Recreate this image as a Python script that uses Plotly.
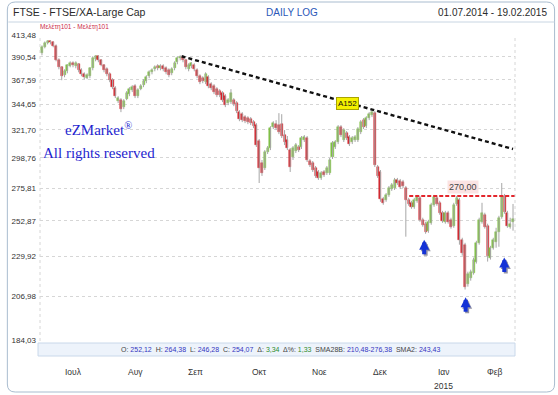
import math
import pandas as pd
import plotly.graph_objects as go

# ---------------- data ----------------
dates = pd.bdate_range("2014-07-01", "2015-02-19")

open_ = [394.3, 400.6, 404.8, 406.9, 405.9, 401.6, 387.0, 379.9, 372.0, 375.9,
         380.9, 384.0, 380.9, 383.0, 376.9, 372.9, 369.1, 371.0, 378.9, 388.1,
         391.2, 387.0, 381.9, 377.9, 372.9, 367.1, 359.4, 347.3, 348.2, 341.8,
         349.1, 353.8, 357.5, 361.4, 351.9, 358.5, 362.3, 366.2, 371.0, 374.9,
         377.9, 380.9, 378.9, 380.9, 378.9, 376.9, 373.9, 378.9, 385.0, 389.1,
         390.2, 387.0, 377.9, 380.9, 381.9, 376.9, 371.0, 369.1, 365.2, 370.0,
         363.3, 361.4, 358.5, 356.6, 354.7, 351.9, 345.5, 346.4, 348.2, 345.5,
         337.3, 335.5, 332.9, 332.0, 331.1, 328.5, 325.9, 312.4, 294.7, 290.8,
         303.4, 306.7, 324.2, 326.7, 325.9, 326.7, 317.4, 313.2, 305.0, 299.5,
         304.2, 307.5, 307.5, 313.2, 314.9, 296.3, 294.7, 290.8, 287.8, 283.3,
         287.8, 287.0, 287.0, 299.5, 307.5, 311.6, 324.2, 313.2, 319.1, 315.7,
         311.6, 313.2, 313.2, 319.9, 330.2, 325.0, 332.0, 334.6, 336.4, 291.6,
         287.8, 268.0, 267.3, 270.8, 275.1, 275.8, 281.8, 281.0, 280.3, 275.8,
         267.3, 265.2, 262.4, 266.6, 268.7, 253.5, 250.9, 246.3, 251.5, 263.8,
         268.7, 265.2, 258.3, 252.2, 258.3, 253.5, 249.5, 264.5, 267.3, 240.4,
         237.3, 214.0, 217.5, 220.4, 226.9, 238.5, 252.2, 256.9, 249.5, 229.3,
         235.4, 239.2, 245.6, 255.6, 270.1, 258.3, 248.9, 252.12]

close = [400.6, 404.8, 406.9, 405.9, 401.6, 387.0, 379.9, 371.0, 375.9, 381.9,
         384.0, 381.9, 384.0, 376.9, 372.9, 370.0, 372.0, 378.9, 389.1, 391.2,
         387.0, 381.9, 376.9, 372.9, 367.1, 360.4, 351.9, 350.1, 340.0, 347.3,
         354.7, 358.5, 360.4, 351.9, 357.5, 361.4, 366.2, 370.0, 374.9, 376.9,
         379.9, 378.9, 380.9, 377.9, 374.9, 372.0, 377.9, 384.0, 389.1, 390.2,
         387.0, 379.9, 381.9, 384.0, 377.9, 371.0, 365.2, 366.2, 372.9, 361.4,
         359.4, 355.7, 352.8, 352.8, 348.2, 343.6, 348.2, 354.7, 344.6, 338.2,
         331.1, 330.2, 329.3, 328.5, 327.6, 325.0, 309.1, 290.8, 287.0, 303.4,
         306.7, 323.3, 327.6, 323.3, 319.9, 316.6, 311.6, 306.7, 291.6, 306.7,
         309.1, 305.0, 314.9, 315.7, 297.1, 293.2, 289.3, 284.8, 283.3, 287.0,
         285.5, 290.8, 297.1, 310.8, 311.6, 324.2, 317.4, 321.6, 314.9, 309.9,
         314.9, 315.7, 322.5, 328.5, 324.2, 332.0, 335.5, 337.3, 293.2, 284.8,
         268.0, 265.2, 270.8, 275.8, 278.1, 281.8, 279.5, 276.6, 277.3, 267.3,
         264.5, 262.4, 267.3, 269.4, 253.5, 250.2, 245.6, 252.2, 263.8, 269.4,
         264.5, 258.3, 252.9, 258.3, 252.2, 248.9, 263.8, 268.7, 240.4, 232.3,
         212.3, 219.8, 220.9, 228.1, 238.5, 253.5, 258.3, 248.9, 230.5, 235.4,
         240.4, 245.6, 254.9, 270.1, 259.0, 249.5, 250.7, 254.07]

high = [402.7, 406.9, 408.0, 408.0, 406.9, 403.7, 389.1, 380.9, 377.9, 383.0,
        386.0, 386.0, 386.0, 384.0, 378.9, 374.9, 373.9, 379.9, 391.2, 392.2,
        392.2, 388.1, 383.0, 379.9, 374.9, 369.1, 361.4, 351.9, 350.1, 349.1,
        356.6, 360.4, 362.3, 363.3, 359.4, 363.3, 368.1, 372.0, 376.9, 378.9,
        381.9, 383.0, 383.0, 383.0, 380.9, 378.9, 379.9, 386.0, 391.2, 392.2,
        392.2, 388.1, 384.0, 385.0, 384.0, 378.9, 372.9, 371.0, 374.9, 372.0,
        365.2, 363.3, 360.4, 358.5, 356.6, 353.8, 350.1, 358.5, 350.1, 347.3,
        339.1, 337.3, 334.6, 333.7, 332.9, 330.2, 327.6, 314.1, 297.1, 305.0,
        308.3, 325.0, 329.3, 330.2, 336.4, 335.5, 321.6, 316.6, 306.7, 308.3,
        310.8, 309.1, 316.6, 317.4, 316.6, 297.9, 296.3, 292.4, 289.3, 288.5,
        289.3, 292.4, 298.7, 312.4, 313.2, 325.9, 325.9, 323.3, 320.8, 317.4,
        316.6, 317.4, 324.2, 330.2, 332.0, 333.7, 337.3, 339.1, 338.2, 293.2,
        289.3, 269.4, 272.2, 277.3, 279.5, 283.3, 283.3, 282.5, 281.8, 277.3,
        268.7, 266.6, 268.7, 270.8, 270.1, 254.9, 252.2, 253.5, 265.2, 270.8,
        270.1, 266.6, 259.6, 259.6, 259.6, 254.9, 265.2, 270.1, 268.7, 241.7,
        238.5, 220.9, 222.1, 229.3, 239.8, 254.9, 265.2, 258.3, 250.9, 236.6,
        241.7, 248.2, 256.2, 279.5, 271.5, 259.6, 254.9, 264.38]

low = [392.2, 399.5, 403.7, 403.7, 400.6, 386.0, 377.9, 367.1, 370.0, 373.9,
       379.9, 379.9, 378.9, 374.9, 371.0, 368.1, 368.1, 369.1, 376.9, 386.0,
       385.0, 380.9, 374.9, 371.0, 365.2, 358.5, 350.1, 345.5, 337.3, 340.0,
       348.2, 351.9, 355.7, 350.1, 350.1, 357.5, 360.4, 364.2, 369.1, 372.9,
       375.9, 376.9, 376.9, 375.9, 372.9, 370.0, 372.0, 376.9, 383.0, 387.0,
       385.0, 377.9, 375.9, 378.9, 375.9, 369.1, 363.3, 364.2, 363.3, 359.4,
       357.5, 353.8, 351.0, 351.0, 346.4, 341.8, 343.6, 344.6, 342.7, 336.4,
       329.3, 328.5, 327.6, 326.7, 325.9, 323.3, 307.5, 279.5, 284.8, 289.3,
       301.8, 305.0, 322.5, 321.6, 318.2, 314.9, 309.1, 305.0, 287.8, 297.1,
       302.6, 303.4, 305.9, 311.6, 295.5, 291.6, 287.8, 283.3, 281.8, 281.8,
       284.0, 285.5, 285.5, 297.9, 305.9, 309.9, 315.7, 311.6, 313.2, 308.3,
       309.9, 311.6, 311.6, 318.2, 322.5, 323.3, 330.2, 332.9, 291.6, 283.3,
       265.9, 263.8, 265.9, 269.4, 273.7, 274.4, 278.1, 275.1, 275.8, 242.4,
       263.1, 261.0, 261.0, 265.2, 252.2, 248.9, 244.3, 244.9, 250.2, 262.4,
       263.1, 256.9, 251.5, 250.9, 250.9, 247.6, 248.2, 263.1, 237.3, 230.5,
       210.7, 212.3, 215.7, 219.2, 225.7, 237.3, 250.9, 247.6, 226.9, 228.1,
       234.2, 235.4, 236.0, 254.2, 257.6, 248.2, 247.6, 246.28]

y_ticks = [413.48, 390.54, 367.59, 344.65, 321.70, 298.76, 275.81, 252.87, 229.92, 206.98, 184.03]
y_tick_labels = ["413,48", "390,54", "367,59", "344,65", "321,70", "298,76",
                 "275,81", "252,87", "229,92", "206,98", "184,03"]
month_labels = ["Ιουλ", "Αυγ", "Σεπ", "Οκτ", "Νοε", "Δεκ", "Ιαν", "Φεβ"]
year_label = "2015"

trend_x = [49.5, 167.0]           # trading-day index
trend_y = [391.2, 305.9]
resist_x = [130.2, 167.7]
resist_level = 270.00
arrow_x = [135.5, 150.2, 163.9]
arrow_y = [240.4, 206.4, 229.3]

info_labels = ["O:", "H:", "L:", "C:", "Δ:", "Δ%:", "SMA28B:", "SMA2:"]
info_values = ["252,12", "264,38", "246,28", "254,07", "3,34", "1,33", "210,48-276,38", "243,43"]

# ---------------- layout helpers ----------------
W, H = 558, 395
ML, MR, MT, MB = 35, 43, 35, 54
PW, PH = W - ML - MR, H - MT - MB


def px(x):
    return (x - ML) / PW


def py(y):
    return (H - MB - y) / PH


FONT = "Liberation Sans, Arial, sans-serif"
GREEN = "#7fc043"
RED = "#d3222a"
WICK = "#a6a6a6"

idx = list(range(len(dates)))

# wicks
wx, wy = [], []
for i, (lo, hi) in enumerate(zip(low, high)):
    wx += [i, i, None]
    wy += [lo, hi, None]

body_col = [GREEN if c >= o else RED for o, c in zip(open_, close)]

fig = go.Figure()
fig.add_trace(go.Scatter(x=wx, y=wy, mode="lines", line=dict(color=WICK, width=1),
                         hoverinfo="skip", showlegend=False))
fig.add_trace(go.Bar(
    x=idx, base=[min(o, c) for o, c in zip(open_, close)],
    y=[abs(c - o) for o, c in zip(open_, close)],
    width=0.72, marker=dict(color=body_col, line=dict(color=body_col, width=0.5)),
    showlegend=False, hovertext=[d.strftime("%d.%m.%Y") for d in dates]))

# trend line & resistance
fig.add_trace(go.Scatter(x=trend_x, y=trend_y, mode="lines",
                         line=dict(color="#111111", width=2.4, dash="4px,3px"),
                         hoverinfo="skip", showlegend=False))
fig.add_trace(go.Scatter(x=resist_x, y=[resist_level, resist_level], mode="lines",
                         line=dict(color="#e3262c", width=2, dash="4px,2px"),
                         hoverinfo="skip", showlegend=False))

# month tick positions = centre of each month's trading days
months = pd.Series(idx, index=dates).groupby([dates.year, dates.month]).mean()
tickpos = list(months.values)

annotations = []
annotations.append(dict(text="FTSE - FTSE/XA-Large Cap", x=px(6), y=py(12), xref="paper", yref="paper",
                        xanchor="left", yanchor="middle", showarrow=False,
                        font=dict(family=FONT, size=10.5, color="#2b2b2b")))
annotations.append(dict(text="DAILY LOG", x=px(290), y=py(12), xref="paper", yref="paper",
                        xanchor="center", yanchor="middle", showarrow=False,
                        font=dict(family=FONT, size=10, color="#2a57b8")))
annotations.append(dict(text="01.07.2014 - 19.02.2015", x=px(549), y=py(12), xref="paper", yref="paper",
                        xanchor="right", yanchor="middle", showarrow=False,
                        font=dict(family=FONT, size=10, color="#2b2b2b")))
annotations.append(dict(text="Μελέτη101 - Μελέτη101", x=px(33), y=py(27), xref="paper", yref="paper",
                        xanchor="left", yanchor="middle", showarrow=False,
                        font=dict(family=FONT, size=6.5, color="#cc2a4a")))
annotations.append(dict(text="eZMarket<sup>®</sup>", x=px(94), y=py(129), xref="paper", yref="paper",
                        xanchor="center", yanchor="middle", showarrow=False,
                        font=dict(family="Liberation Serif, serif", size=15, color="#1f1fcf")))
annotations.append(dict(text="All rights reserved", x=px(95), y=py(153), xref="paper", yref="paper",
                        xanchor="center", yanchor="middle", showarrow=False,
                        font=dict(family="Liberation Serif, serif", size=15, color="#1f1fcf")))
annotations.append(dict(text="A152", x=108.4, y=math.log10(345.5), xref="x", yref="y",
                        showarrow=False, bgcolor="#f4f000", bordercolor="#a9a400", borderwidth=1,
                        borderpad=1, font=dict(family=FONT, size=8, color="#111111")))
annotations.append(dict(text="270,00", x=149.1, y=math.log10(276.6), xref="x", yref="y",
                        showarrow=False, bgcolor="#fbe3e3", borderpad=1,
                        font=dict(family=FONT, size=9, color="#444444")))

# month labels under the info bar
for tp, lab in zip(tickpos, month_labels):
    annotations.append(dict(text=lab, x=tp, y=py(372), xref="x", yref="paper",
                            xanchor="center", yanchor="middle", showarrow=False,
                            font=dict(family=FONT, size=8.5, color="#333333")))
annotations.append(dict(text=year_label, x=tickpos[6], y=py(386), xref="x", yref="paper",
                        xanchor="center", yanchor="middle", showarrow=False,
                        font=dict(family=FONT, size=8.5, color="#333333")))

for ax_, ay_ in zip(arrow_x, arrow_y):
    annotations.append(dict(text="", x=ax_, y=math.log10(ay_), xref="x", yref="y",
                            showarrow=True, ax=0, ay=16, arrowhead=2, arrowsize=0.5,
                            arrowwidth=4, arrowcolor="rgba(20,20,60,0.45)",
                            xshift=1.5, yshift=-1.5))
    annotations.append(dict(text="", x=ax_, y=math.log10(ay_), xref="x", yref="y",
                            showarrow=True, ax=0, ay=16, arrowhead=2, arrowsize=0.5,
                            arrowwidth=4, arrowcolor="#1432d6"))

info_parts = []
for lab, val in zip(info_labels, info_values):
    col = "#2e8b2e" if lab.startswith("Δ") else "#3535c0"
    info_parts.append(f"<span style='color:#444'>{lab}</span> <span style='color:{col}'>{val}</span>")
annotations.append(dict(text="  ".join(info_parts), x=px(278), y=py(350), xref="paper", yref="paper",
                        xanchor="center", yanchor="middle", showarrow=False,
                        font=dict(family=FONT, size=7, color="#444444")))

# outer rounded border
x0, x1, y0, y1, r = 2, 555, 2, 392, 8
path = (f"M {px(x0 + r)},{py(y0)} L {px(x1 - r)},{py(y0)} Q {px(x1)},{py(y0)} {px(x1)},{py(y0 + r)} "
        f"L {px(x1)},{py(y1 - r)} Q {px(x1)},{py(y1)} {px(x1 - r)},{py(y1)} "
        f"L {px(x0 + r)},{py(y1)} Q {px(x0)},{py(y1)} {px(x0)},{py(y1 - r)} "
        f"L {px(x0)},{py(y0 + r)} Q {px(x0)},{py(y0)} {px(x0 + r)},{py(y0)} Z")

shapes = [
    dict(type="path", path=path, xref="paper", yref="paper", line=dict(color="#a9bccf", width=1)),
    dict(type="line", xref="paper", yref="paper", x0=px(3), x1=px(555), y0=py(22), y1=py(22),
         line=dict(color="#c8d5e2", width=1)),
    dict(type="rect", xref="paper", yref="paper", x0=px(33), x1=px(515), y0=py(343), y1=py(356),
         fillcolor="#edf3fb", line=dict(color="#c9d8ea", width=1), layer="below"),
    dict(type="line", xref="paper", yref="paper", x0=0, x1=0, y0=0, y1=1,
         line=dict(color="#d6d6d6", width=1, dash="dot")),
    dict(type="line", xref="paper", yref="paper", x0=1, x1=1, y0=0, y1=1,
         line=dict(color="#d6d6d6", width=1, dash="dot")),
]

fig.update_layout(
    width=W, height=H,
    margin=dict(l=ML, r=MR, t=MT, b=MB),
    paper_bgcolor="white", plot_bgcolor="white",
    showlegend=False, bargap=0,
    annotations=annotations,
    shapes=shapes,
    xaxis=dict(range=[-0.7, 167.7], tickvals=tickpos, showticklabels=False,
               showgrid=False, zeroline=False, showline=False, ticks=""),
    yaxis=dict(type="log", range=[math.log10(183.8), math.log10(413.9)],
               tickvals=y_ticks, ticktext=y_tick_labels,
               showgrid=True, gridcolor="#d6d6d6", griddash="dot", gridwidth=1,
               zeroline=False, showline=False, ticks="", ticklabelstandoff=3,
               tickfont=dict(family=FONT, size=8, color="#333333")),
)

fig.write_html("out.html", config={"displayModeBar": False},
               post_script="document.body.style.margin='0';")
